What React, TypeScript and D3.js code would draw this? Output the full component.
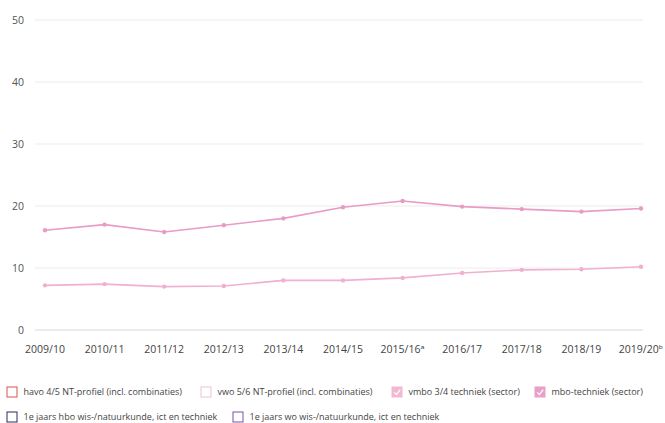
import React, { useEffect, useRef } from 'react';
import * as d3 from 'd3';

const years = [
  '2009/10', '2010/11', '2011/12', '2012/13', '2013/14', '2014/15',
  '2015/16ᵃ', '2016/17', '2017/18', '2018/19', '2019/20ᵇ',
];

const mboTechniek = [16.1, 17.0, 15.8, 16.9, 18.0, 19.8, 20.8, 19.9, 19.5, 19.1, 19.6];
const vmboTechniek = [7.2, 7.4, 7.0, 7.1, 8.0, 8.0, 8.4, 9.2, 9.7, 9.8, 10.2];

const yTicks = [0, 10, 20, 30, 40, 50];

interface LegendItem {
  label: string;
  color: string;
  active: boolean;
}

const legendRow1: LegendItem[] = [
  { label: 'havo 4/5 NT-profiel (incl. combinaties)', color: '#d9534f', active: false },
  { label: 'vwo 5/6 NT-profiel (incl. combinaties)', color: '#f2c2d6', active: false },
  { label: 'vmbo 3/4 techniek (sector)', color: '#f2b8d3', active: true },
  { label: 'mbo-techniek (sector)', color: '#e9a0c8', active: true },
];

const legendRow2: LegendItem[] = [
  { label: '1e jaars hbo wis-/natuurkunde, ict en techniek', color: '#2b2d5c', active: false },
  { label: '1e jaars wo wis-/natuurkunde, ict en techniek', color: '#7b4fa8', active: false },
];

const Chart: React.FC = () => {
  const svgRef = useRef<SVGSVGElement>(null);

  useEffect(() => {
    if (!svgRef.current) return;
    const svg = d3.select(svgRef.current);
    svg.selectAll('*').remove();

    const font = "'Open Sans', 'DejaVu Sans', sans-serif";

    const x = d3.scalePoint<string>().domain(years).range([45, 641]);
    const y = d3.scaleLinear().domain([0, 50]).range([330, 20]);

    // grid + y labels
    const grid = svg.append('g');
    yTicks.forEach((t) => {
      grid.append('line')
        .attr('x1', 35).attr('x2', 643)
        .attr('y1', y(t)).attr('y2', y(t))
        .attr('stroke', t === 0 ? '#d8d8d8' : '#ececec')
        .attr('stroke-width', 1);
      grid.append('text')
        .attr('x', 24).attr('y', y(t))
        .attr('dy', '0.35em')
        .attr('text-anchor', 'end')
        .attr('font-family', font)
        .attr('font-size', 10.5)
        .attr('fill', '#555')
        .text(t);
    });

    // x labels
    years.forEach((yr) => {
      svg.append('text')
        .attr('x', x(yr)!).attr('y', 349)
        .attr('dy', '0.35em')
        .attr('text-anchor', 'middle')
        .attr('font-family', font)
        .attr('font-size', 10.5)
        .attr('fill', '#444')
        .text(yr);
    });

    const series = [
      { values: vmboTechniek, color: '#f0b0cf' },
      { values: mboTechniek, color: '#e89cc5' },
    ];

    const line = d3.line<number>()
      .x((_, i) => x(years[i])!)
      .y((d) => y(d));

    series.forEach((s) => {
      svg.append('path')
        .datum(s.values)
        .attr('d', line)
        .attr('fill', 'none')
        .attr('stroke', s.color)
        .attr('stroke-width', 1.6);
      svg.append('g')
        .selectAll('circle')
        .data(s.values)
        .join('circle')
        .attr('cx', (_, i) => x(years[i])!)
        .attr('cy', (d) => y(d))
        .attr('r', 2.2)
        .attr('fill', s.color);
    });

    // legend
    const drawRow = (items: LegendItem[], xs: number[], cy: number) => {
      items.forEach((it, i) => {
        const g = svg.append('g').attr('transform', `translate(${xs[i]},${cy})`);
        g.append('rect')
          .attr('x', 0).attr('y', -5)
          .attr('width', 10).attr('height', 10)
          .attr('fill', it.active ? it.color : '#fff')
          .attr('stroke', it.color)
          .attr('stroke-width', 1);
        if (it.active) {
          g.append('path')
            .attr('d', 'M2.2,0.3 L4.4,2.6 L8.2,-2.3')
            .attr('fill', 'none')
            .attr('stroke', '#fff')
            .attr('stroke-width', 1.2);
        }
        g.append('text')
          .attr('x', 16.5).attr('y', 0)
          .attr('dy', '0.35em')
          .attr('font-family', font)
          .attr('font-size', 9)
          .attr('fill', '#444')
          .text(it.label);
      });
    };
    drawRow(legendRow1, [7, 201, 392, 535], 392);
    drawRow(legendRow2, [7, 233], 417);
  }, []);

  return <svg ref={svgRef} width={665} height={423} style={{ display: 'block' }} />;
};

export default function App() {
  return (
    <div
      style={{
        position: 'fixed',
        top: 0,
        left: 0,
        width: 665,
        height: 423,
        overflow: 'hidden',
        background: '#fff',
      }}
    >
      <Chart />
    </div>
  );
}
